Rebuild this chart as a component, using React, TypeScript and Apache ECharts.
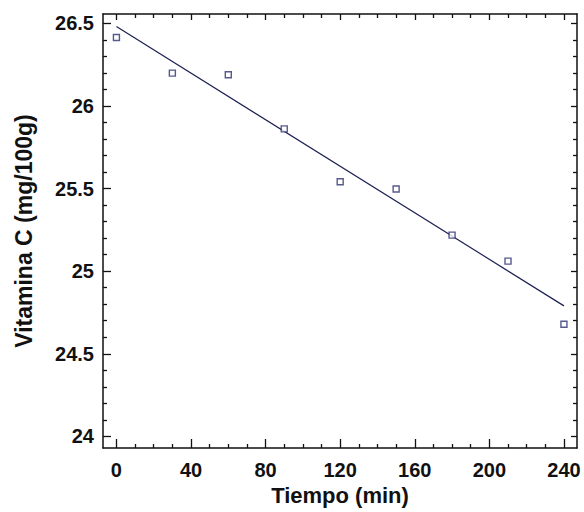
import React, { useEffect, useRef } from "react";
import * as echarts from "echarts";

const tiempo = [0, 30, 60, 90, 120, 150, 180, 210, 240];
const vitaminaC = [26.414, 26.198, 26.188, 25.861, 25.541, 25.497, 25.218, 25.061, 24.679];
const fitX = [0, 240];
const fitY = [26.48, 24.79];

const xMajorTicks = [0, 40, 80, 120, 160, 200, 240];
const xMinorTicks = [10, 20, 30, 50, 60, 70, 90, 100, 110, 130, 140, 150, 170, 180, 190, 210, 220, 230];
const yMajorTicks = [24, 24.5, 25, 25.5, 26, 26.5];
const yMinorTicks = [24.1, 24.2, 24.3, 24.4, 24.6, 24.7, 24.8, 24.9, 25.1, 25.2, 25.3, 25.4, 25.6, 25.7, 25.8, 25.9, 26.1, 26.2, 26.3, 26.4];

const X_MIN = -7.2;
const X_MAX = 247;
const Y_MIN = 23.93;
const Y_MAX = 26.556;

const FONT = "'Liberation Sans', Arial, sans-serif";
const MARK = "#2c2f72";
const LINE = "#1c2152";

export default function App() {
  const ref = useRef<HTMLDivElement>(null);
  useEffect(() => {
    document.body.style.margin = "0";
    const chart = echarts.init(ref.current!, null, { renderer: "svg" });
    const lineStyle = { color: "#111", width: 1.5 };
    const makeX = (position: string, ticks: number[], len: number, showLine: boolean, showLabel: boolean, name?: string) => ({
      type: "value",
      position,
      min: X_MIN,
      max: X_MAX,
      splitLine: { show: false },
      axisLine: { show: showLine, onZero: false, lineStyle },
      axisTick: { show: true, inside: true, length: len, customValues: ticks, lineStyle: { color: "#111", width: 1.3 } },
      axisLabel: {
        show: showLabel,
        customValues: ticks,
        margin: 12,
        fontFamily: FONT,
        fontWeight: "bold",
        fontSize: 20,
        color: "#111",
      },
      name: name || "",
      nameLocation: "middle",
      nameGap: 34,
      nameTextStyle: { fontFamily: FONT, fontWeight: "bold", fontSize: 22, color: "#111" },
    });
    const makeY = (position: string, ticks: number[], len: number, showLine: boolean, showLabel: boolean, name?: string) => ({
      type: "value",
      position,
      min: Y_MIN,
      max: Y_MAX,
      splitLine: { show: false },
      axisLine: { show: showLine, onZero: false, lineStyle },
      axisTick: { show: true, inside: true, length: len, customValues: ticks, lineStyle: { color: "#111", width: 1.3 } },
      axisLabel: {
        show: showLabel,
        customValues: ticks,
        margin: 9,
        fontFamily: FONT,
        fontWeight: "bold",
        fontSize: 20,
        color: "#111",
      },
      name: name || "",
      nameLocation: "middle",
      nameGap: 68,
      nameRotate: 90,
      nameTextStyle: { fontFamily: FONT, fontWeight: "bold", fontSize: 23, color: "#111" },
    });
    chart.setOption({
      animation: false,
      backgroundColor: "#ffffff",
      grid: { left: 103, top: 14, right: 7, bottom: 64, containLabel: false, outerBoundsMode: "none" },
      xAxis: [
        makeX("bottom", xMajorTicks, 9, true, true, "Tiempo (min)"),
        makeX("bottom", xMinorTicks, 4, false, false),
        makeX("top", xMajorTicks, 6, true, false),
        makeX("top", xMinorTicks, 4, false, false),
      ],
      yAxis: [
        makeY("left", yMajorTicks, 8, true, true, "Vitamina C (mg/100g)"),
        makeY("left", yMinorTicks, 4, false, false),
        makeY("right", yMajorTicks, 6, true, false),
        makeY("right", yMinorTicks, 4, false, false),
      ],
      series: [
        {
          type: "line",
          xAxisIndex: 0,
          yAxisIndex: 0,
          data: fitX.map((x, i) => [x, fitY[i]]),
          showSymbol: false,
          symbol: "none",
          lineStyle: { color: LINE, width: 1.2 },
          z: 2,
        },
        {
          type: "scatter",
          xAxisIndex: 0,
          yAxisIndex: 0,
          data: tiempo.map((x, i) => [x, vitaminaC[i]]),
          symbol: "rect",
          symbolSize: 6,
          itemStyle: { color: "#ffffff", borderColor: MARK, borderWidth: 1.4 },
          z: 3,
        },
      ],
    });
    return () => chart.dispose();
  }, []);
  return <div ref={ref} style={{ width: 584, height: 512 }} />;
}
